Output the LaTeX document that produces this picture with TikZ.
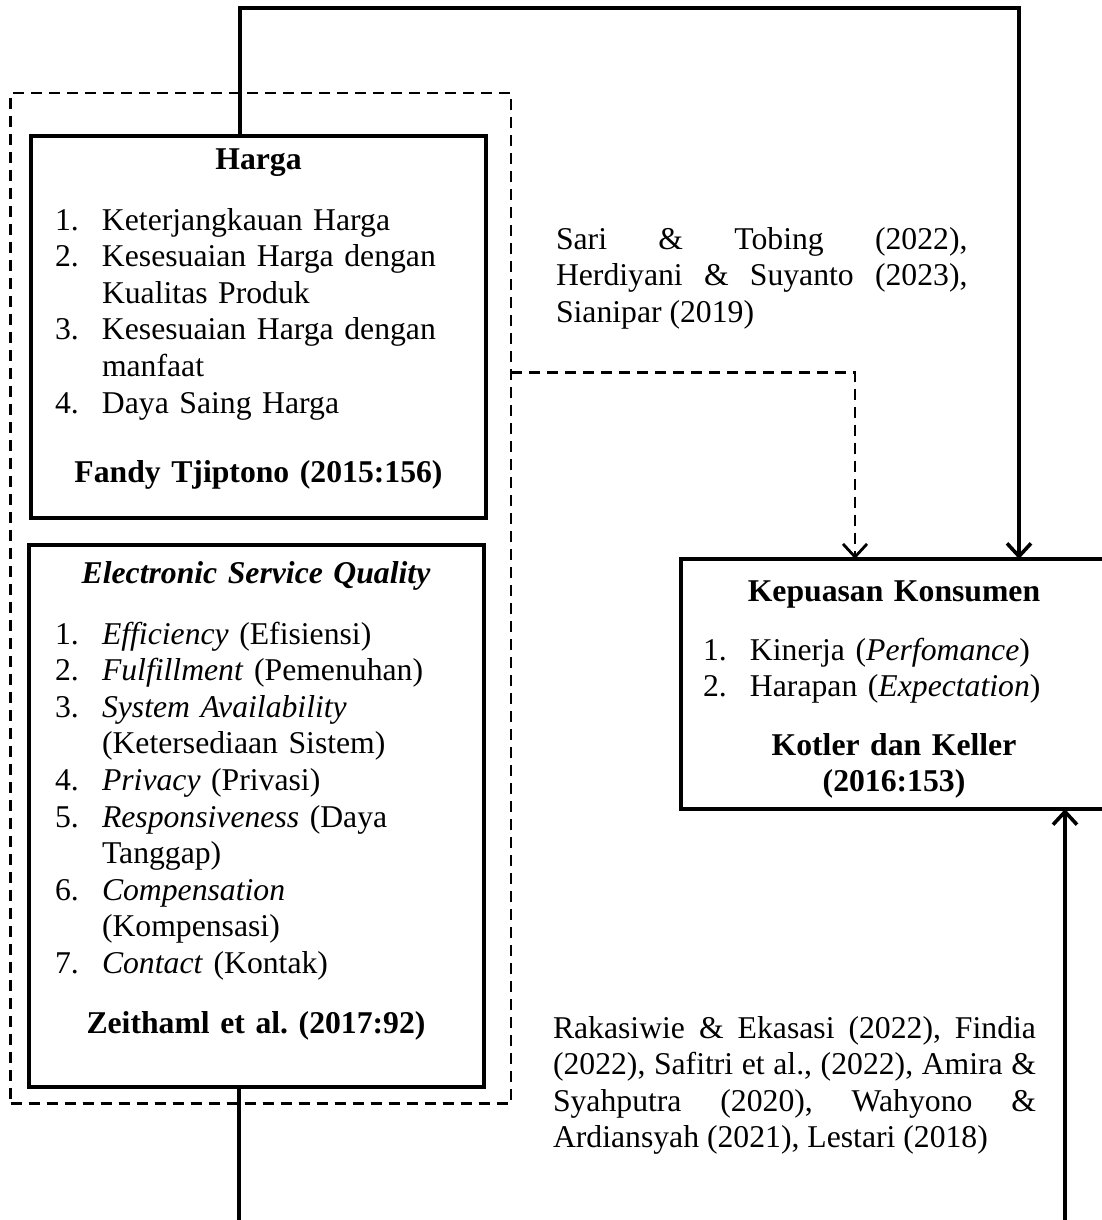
\documentclass[tikz,border=0pt]{standalone}
\usepackage{fontspec}
\setmainfont{Liberation Serif}
\usetikzlibrary{arrows.meta}
\tikzset{
  every node/.style={font=\fontsize{31.7}{36.6}\selectfont\frenchspacing, inner sep=0pt, outer sep=0pt},
  boxnode/.style={draw, line width=3.8pt, inner sep=0pt, anchor=north west},
  groupbox/.style={draw, line width=2.8pt, dash pattern=on 11pt off 7pt, inner sep=0pt, anchor=north west},
  conn/.style={line width=3.6pt},
  dconn/.style={line width=2.8pt, dash pattern=on 11pt off 7pt},
  barbtip/.style={-{Straight Barb[length=13pt,width=24pt]}},
  listtext/.style={anchor=base west, align=left, text width=420pt},
  ctext/.style={anchor=base, align=center, text width=420pt, font=\fontsize{31.7}{36.6}\selectfont\frenchspacing\bfseries},
  para/.style={anchor=base west, align=justify},
}
\newcommand{\numitem}[1]{\makebox[47pt][l]{#1}}
\newcommand{\contitem}{\hspace*{47pt}}
\begin{document}
\begin{tikzpicture}[x=1pt,y=-1pt]
\useasboundingbox (0,0) rectangle (1102,1220);
\clip (0,0) rectangle (1102,1220);

% group (dashed) and boxes
\node[groupbox, minimum width=500.3pt, minimum height=1010.6pt] (grp) at (10.7,93) {};
\node[boxnode, minimum width=455pt, minimum height=382pt] (harga) at (31,136) {};
\node[boxnode, minimum width=455pt, minimum height=542pt] (esq) at (29,545) {};
\node[boxnode, minimum width=425pt, minimum height=250pt] (kep) at (681,559) {};

% Harga content
\node[ctext] (hT) at (258.5,169) {Harga};
\node[listtext] (hL) at (55,230) {\numitem{1.}Keterjangkauan Harga\\
\numitem{2.}Kesesuaian Harga dengan\\
\contitem Kualitas Produk\\
\numitem{3.}Kesesuaian Harga dengan\\
\contitem manfaat\\
\numitem{4.}Daya Saing Harga};
\node[ctext] (hA) at (258.5,482.5) {Fandy Tjiptono (2015:156)};

% ESQ content
\node[ctext, font=\fontsize{31.7}{36.6}\selectfont\frenchspacing\bfseries\itshape] (eT) at (256,583) {Electronic Service Quality};
\node[listtext] (eL) at (55,644) {\numitem{1.}\textit{Efficiency} (Efisiensi)\\
\numitem{2.}\textit{Fulfillment} (Pemenuhan)\\
\numitem{3.}\textit{System Availability}\\
\contitem (Ketersediaan Sistem)\\
\numitem{4.}\textit{Privacy} (Privasi)\\
\numitem{5.}\textit{Responsiveness} (Daya\\
\contitem Tanggap)\\
\numitem{6.}\textit{Compensation}\\
\contitem (Kompensasi)\\
\numitem{7.}\textit{Contact} (Kontak)};
\node[ctext] (eA) at (256,1033) {Zeithaml et al. (2017:92)};

% Kepuasan content
\node[ctext] (kT) at (894,601) {Kepuasan Konsumen};
\node[listtext, text width=380pt] (kL) at (703,660) {\numitem{1.}Kinerja (\textit{Perfomance})\\
\numitem{2.}Harapan (\textit{Expectation})};
\node[ctext, text width=380pt] (kA) at (894,755) {Kotler dan Keller\\(2016:153)};

% citation paragraphs
\node[para, text width=411.5pt] (p1) at (556,249) {Sari \& Tobing (2022),\linebreak Herdiyani \& Suyanto (2023),\linebreak Sianipar (2019)};
\node[para, text width=483pt] (p2) at (553,1038) {Rakasiwie \& Ekasasi (2022), Findia\linebreak (2022), Safitri et al., (2022), Amira \&\linebreak Syahputra (2020), Wahyono \&\linebreak Ardiansyah (2021), Lestari (2018)};

% connectors
\coordinate (t1) at (240,8);
\coordinate (t2) at (1019,8);
\draw[conn, barbtip] (harga.north -| t1) -- (t1) -- (t2) -- (kep.north -| t2);

\coordinate (d1) at (855,372.7);
\draw[dconn, barbtip] (grp.east |- d1) -- (d1) -- (kep.north -| d1);

\coordinate (b1) at (239,1222);
\draw[conn] (esq.south -| b1) -- (b1);
\coordinate (b2) at (1065,1222);
\draw[conn, barbtip] (b2) -- (kep.south -| b2);
\end{tikzpicture}
\end{document}
